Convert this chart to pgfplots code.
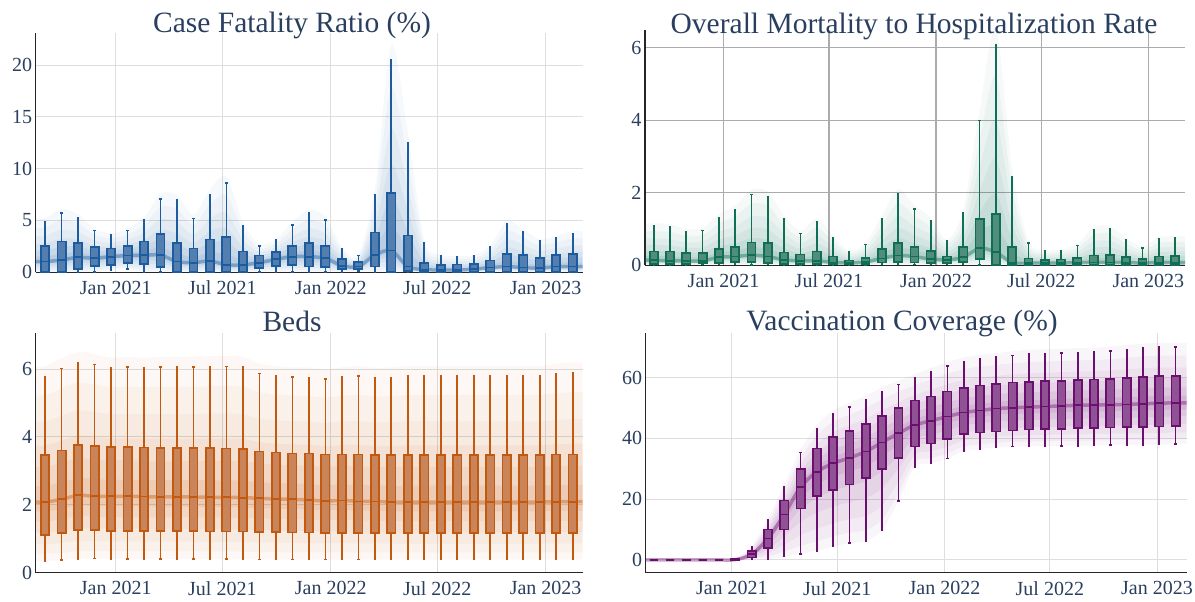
\documentclass[border=0pt]{standalone}
\usepackage{fontspec}
\setmainfont{Liberation Serif}
\usepackage{pgfplots}
\usepackage{pgfplotstable}
\pgfplotsset{compat=1.18}
\usepgfplotslibrary{statistics,fillbetween}

\definecolor{txt}{HTML}{2A3F5F}
\definecolor{cfr}{HTML}{1C5C9E}
\definecolor{mor}{HTML}{0F6E56}
\definecolor{bed}{HTML}{C2590F}
\definecolor{vac}{HTML}{6B0F6F}
\definecolor{cfrfill}{RGB}{82,127,176}
\definecolor{morfill}{RGB}{80,141,123}
\definecolor{bedfill}{RGB}{201,133,89}
\definecolor{vacfill}{RGB}{145,82,149}

% x = box number, one box every 28 days; box 0 is 120 days before 1 Jan 2021
% first and last rows only carry the shading out to the axis edges
\pgfplotstableread{
x lw lq md uq uw
-0.6 0 0.06 1.03 2.54 4.9
0 0 0.06 1.03 2.54 4.9
1 0 0.06 1.19 2.96 5.75
2 0 0.29 1.45 2.86 5.27
3 0 0.64 1.35 2.41 4.02
4 0.23 0.71 1.51 2.31 3.6
5 0.29 0.87 1.61 2.57 4.02
6 0 0.80 1.64 2.96 5.05
7 0 0.48 1.67 3.67 7.1
8 0 0.06 1.03 2.83 7.0
9 0 0.06 0.93 2.31 5.2
10 0 0.06 1.09 3.18 7.5
11 0 0.06 0.71 3.44 8.6
12 0 0.06 0.71 2.0 4.5
13 0.06 0.39 0.93 1.61 2.57
14 0.06 0.61 1.25 1.96 3.09
15 0 0.71 1.51 2.57 4.57
16 0 0.55 1.51 2.83 5.69
17 0 0.48 1.35 2.57 5.08
18 0.06 0.29 0.64 1.25 2.28
19 0.13 0.32 0.55 1.0 1.61
20 0 0.55 1.67 3.83 7.5
21 0 0.06 2.09 7.64 20.5
22 0 0.15 0.55 3.54 12.5
23 0 0.05 0.25 0.93 2.86
24 0 0.05 0.22 0.70 1.57
25 0 0.05 0.20 0.74 1.5
26 0 0.05 0.29 0.77 1.54
27 0 0.05 0.45 1.13 2.41
28 0 0.05 0.55 1.77 4.66
29 0 0.05 0.45 1.64 3.86
30 0 0.05 0.39 1.35 2.99
31 0 0.05 0.55 1.64 3.31
32 0 0.05 0.55 1.74 3.73
32.7 0 0.05 0.55 1.74 3.73
}\cfrtab

\pgfplotstableread{
x lw lq md uq uw
-0.6 0 0.04 0.14 0.38 1.08
0 0 0.04 0.14 0.38 1.08
1 0 0.04 0.12 0.38 1.06
2 0 0.04 0.12 0.33 0.93
3 0.02 0.06 0.12 0.33 0.96
4 0.02 0.07 0.22 0.44 1.32
5 0.02 0.10 0.24 0.50 1.54
6 0 0.10 0.28 0.63 1.95
7 0.02 0.06 0.24 0.61 1.90
8 0 0.04 0.15 0.35 1.28
9 0 0.04 0.12 0.30 0.88
10 0 0.04 0.12 0.38 1.21
11 0 0.03 0.08 0.24 0.76
12 0 0.02 0.06 0.13 0.38
13 0 0.03 0.09 0.21 0.57
14 0.02 0.08 0.19 0.44 1.28
15 0.02 0.10 0.27 0.61 1.97
16 0.02 0.08 0.24 0.50 1.55
17 0.02 0.06 0.17 0.40 1.23
18 0.02 0.07 0.15 0.24 0.67
19 0.02 0.10 0.22 0.50 1.44
20 0 0.17 0.47 1.27 3.99
21 0 0.01 0.36 1.41 6.07
22 0 0.01 0.07 0.50 2.43
23 0 0.01 0.06 0.19 0.62
24 0 0.01 0.06 0.14 0.39
25 0 0.01 0.06 0.16 0.41
26 0 0.01 0.07 0.21 0.55
27 0 0.01 0.08 0.27 0.98
28 0 0.01 0.08 0.29 1.01
29 0 0.01 0.07 0.22 0.69
30 0 0.01 0.06 0.17 0.48
31 0 0.01 0.07 0.24 0.72
32 0 0.01 0.07 0.25 0.75
32.7 0 0.01 0.07 0.25 0.75
}\mortab

\pgfplotstableread{
x lw lq md uq uw
-0.6 0.35 1.10 2.08 3.47 5.78
0 0.35 1.10 2.08 3.47 5.78
1 0.37 1.16 2.16 3.60 6.01
2 0.41 1.25 2.28 3.77 6.19
3 0.42 1.26 2.25 3.73 6.13
4 0.41 1.23 2.25 3.71 6.03
5 0.41 1.23 2.25 3.70 6.05
6 0.41 1.22 2.24 3.69 6.03
7 0.41 1.22 2.23 3.68 6.05
8 0.41 1.22 2.23 3.68 6.05
9 0.41 1.22 2.23 3.68 6.05
10 0.40 1.21 2.22 3.67 6.07
11 0.40 1.21 2.22 3.66 6.07
12 0.40 1.21 2.21 3.64 6.05
13 0.39 1.20 2.19 3.57 5.87
14 0.39 1.19 2.17 3.54 5.79
15 0.385 1.18 2.16 3.51 5.76
16 0.385 1.18 2.14 3.51 5.75
17 0.385 1.17 2.11 3.48 5.70
18 0.385 1.17 2.13 3.48 5.76
19 0.385 1.17 2.10 3.48 5.79
20 0.385 1.16 2.10 3.47 5.74
21 0.385 1.16 2.08 3.46 5.75
22 0.385 1.16 2.08 3.47 5.79
23 0.385 1.16 2.08 3.47 5.79
24 0.385 1.16 2.08 3.47 5.79
25 0.385 1.16 2.08 3.47 5.79
26 0.385 1.16 2.08 3.47 5.79
27 0.385 1.16 2.08 3.47 5.79
28 0.385 1.16 2.08 3.47 5.79
29 0.385 1.16 2.08 3.47 5.79
30 0.385 1.16 2.08 3.47 5.79
31 0.385 1.16 2.09 3.48 5.85
32 0.385 1.16 2.09 3.48 5.89
32.7 0.385 1.16 2.09 3.48 5.89
}\bedtab

\pgfplotstableread{
x lw lq md uq uw
-0.6 0 0 0 0 0
0 0 0 0 0 0
1 0 0 0 0 0
2 0 0 0 0 0
3 0 0 0 0 0
4 0 0 0 0 0
5 0 0 0.1 0.2 0.5
6 0.2 0.76 1.85 3.05 4.4
7 0.2 4.0 7.1 10.0 13.1
8 1.1 10.0 15.0 19.6 24.2
9 2.0 16.9 24.0 30.0 35.4
10 3.05 21.0 29.0 36.7 43.2
11 4.4 23.1 31.8 40.5 48.0
12 5.6 24.8 33.6 42.5 50.3
13 6.2 26.9 35.7 44.7 52.7
14 9.8 30.0 38.7 47.4 55.4
15 19.3 33.6 41.7 50.0 57.7
16 30.7 37.3 44.4 52.5 59.9
17 31.8 38.3 45.8 53.8 61.8
18 33.4 39.8 47.2 55.4 63.8
19 35.8 41.4 48.5 56.6 65.3
20 36.5 41.9 49.2 57.4 66.2
21 37.0 42.3 49.8 58.0 66.7
22 37.3 42.6 50.1 58.4 67.3
23 37.4 42.9 50.3 58.6 67.8
24 37.5 43.0 50.5 58.8 67.9
25 37.6 43.2 50.7 59.0 68.1
26 37.6 43.4 50.9 59.3 68.3
27 37.7 43.5 51.0 59.4 68.4
28 37.8 43.6 51.1 59.6 68.8
29 37.9 43.7 51.2 60.0 69.3
30 37.9 43.8 51.4 60.2 69.7
31 38.0 43.9 51.6 60.5 70.0
32 38.1 44.0 51.7 60.6 70.0
32.7 38.1 44.0 51.7 60.6 70.0
}\vactab

\pgfplotsset{
  panel/.style={
    scale only axis, anchor=south west,
    axis x line*=bottom, axis y line*=left,
    axis line style={line width=1.3pt, color=black!85},
    major tick length=0pt,
    grid=major, grid style={line width=0.9pt, color=black!13},
    xtick={4.2857,10.75,17.321,23.786,30.357},
    xticklabels={Jan 2021,Jul 2021,Jan 2022,Jul 2022,Jan 2023},
    tick label style={font=\fontsize{20}{24}\selectfont, text=txt},
    xticklabel style={yshift=-5pt},
    /pgf/number format/assume math mode=true,
  },
  bxbase/.style={line width=1.7pt, boxplot/draw direction=y,
    boxplot/box extend=0.5, boxplot/whisker extend=0.14},
  bxcfr/.style={bxbase, draw=cfr, fill=cfrfill},
  bxmor/.style={bxbase, draw=mor, fill=morfill},
  bxbed/.style={bxbase, draw=bed, fill=bedfill},
  bxvac/.style={bxbase, draw=vac, fill=vacfill},
}

% one box per data row (rows 1 to 33)
\newcommand\drawboxes[2]{%
  \pgfplotsforeachungrouped \ii in {1,...,33}{%
    \pgfplotstablegetelem{\ii}{x}\of#1\let\bX\pgfplotsretval
    \pgfplotstablegetelem{\ii}{lw}\of#1\let\bA\pgfplotsretval
    \pgfplotstablegetelem{\ii}{lq}\of#1\let\bB\pgfplotsretval
    \pgfplotstablegetelem{\ii}{md}\of#1\let\bC\pgfplotsretval
    \pgfplotstablegetelem{\ii}{uq}\of#1\let\bD\pgfplotsretval
    \pgfplotstablegetelem{\ii}{uw}\of#1\let\bE\pgfplotsretval
    \edef\tmp{\noexpand\addplot[#2, boxplot prepared={draw position=\bX,
      lower whisker=\bA, lower quartile=\bB, median=\bC,
      upper quartile=\bD, upper whisker=\bE}] coordinates {};}%
    \tmp
  }%
}

% one band of the fan: table, colour, name, upper share, lower share, opacity
% the shares say how far from the median toward the whiskers the band reaches
\newcommand\fanband[6]{%
  \addplot[name path=#3u, draw=none, smooth] table[x=x,
    y expr={\thisrow{md}+#4*(\thisrow{uw}-\thisrow{md})}]{#1};
  \addplot[name path=#3l, draw=none, smooth] table[x=x,
    y expr={\thisrow{md}-#5*(\thisrow{md}-\thisrow{lw})}]{#1};
  \addplot[fill=#2, fill opacity=#6, draw=none] fill between[of=#3u and #3l];
}
\newcommand\drawfan[3]{%
  \fanband{#1}{#2}{#3a}{1.08}{1.0}{0.04}
  \fanband{#1}{#2}{#3b}{0.85}{0.88}{0.045}
  \fanband{#1}{#2}{#3c}{0.64}{0.72}{0.05}
  \fanband{#1}{#2}{#3d}{0.45}{0.52}{0.06}
  \fanband{#1}{#2}{#3e}{0.28}{0.33}{0.07}
  \fanband{#1}{#2}{#3f}{0.13}{0.16}{0.09}
  \addplot[#2, line width=3.5pt, opacity=0.4, smooth] table[x=x, y=md]{#1};
}

\begin{document}
\begin{tikzpicture}

% Case fatality ratio
\begin{axis}[panel, at={(35.7pt,329.7pt)}, width=547pt, height=239.3pt,
  xmin=-0.571, xmax=32.607, ymin=0, ymax=23.1, ytick={0,5,10,15,20}]
\drawfan{\cfrtab}{cfr}{a}
\drawboxes{\cfrtab}{bxcfr}
\end{axis}

% Mortality to hospitalization
\begin{axis}[panel, at={(645pt,336.7pt)}, width=540pt, height=235.3pt,
  xmin=-0.536, xmax=32.607, ymin=0, ymax=6.49, ytick={0,2,4,6},
  grid style={line width=1.3pt, color=black!33}]
\drawfan{\mortab}{mor}{b}
\drawboxes{\mortab}{bxmor}
\end{axis}

% Beds
\begin{axis}[panel, at={(35.7pt,29.3pt)}, width=547pt, height=239.4pt,
  xmin=-0.571, xmax=32.607, ymin=0, ymax=7.05, ytick={0,2,4,6}]
\drawfan{\bedtab}{bed}{c}
\drawboxes{\bedtab}{bxbed}
\end{axis}

% Vaccination coverage (its dates run 14 days earlier at the same box)
\begin{axis}[panel, at={(645.7pt,29.3pt)}, width=541pt, height=239.4pt,
  xmin=-0.5, xmax=32.679, ymin=-4.2, ymax=74.6, ytick={0,20,40,60},
  xtick={4.7857,11.25,17.821,24.286,30.857}]
\drawfan{\vactab}{vac}{d}
\drawboxes{\vactab}{bxvac}
\end{axis}

\begin{scope}[every node/.style={text=txt, font=\fontsize{29.5}{34}\selectfont, anchor=base, inner sep=0pt}]
\node at (292pt,569pt) {Case Fatality Ratio (\%)};
\node at (914pt,568pt) {Overall Mortality to Hospitalization Rate};
\node at (292pt,270.3pt) {Beds};
\node at (902pt,271pt) {Vaccination Coverage (\%)};
\end{scope}

\pgfresetboundingbox
\path (0pt,0pt) rectangle (1195pt,602pt);
\end{tikzpicture}
\end{document}
